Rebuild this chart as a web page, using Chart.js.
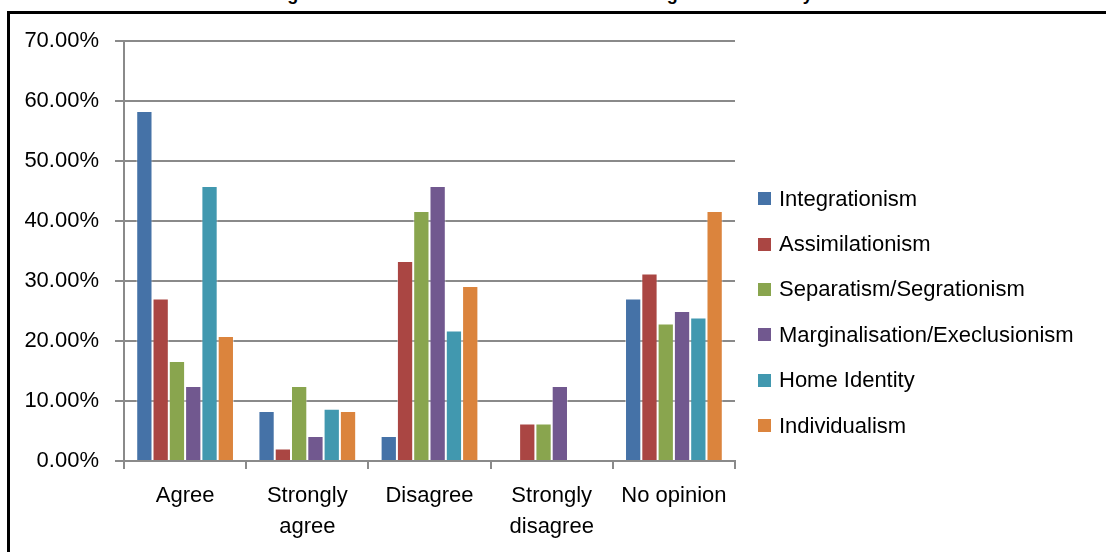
<!DOCTYPE html>
<html>
<head>
<meta charset="utf-8">
<script src="https://cdn.jsdelivr.net/npm/chart.js@4"></script>
<style>
  html, body { margin: 0; padding: 0; background: #fff; }
  body { width: 1106px; height: 552px; position: relative; overflow: hidden; font-family: "Liberation Sans", Arial, sans-serif; }
  #title { position: absolute; left: 0; width: 1084px; top: -16px; text-align: center; font-weight: bold; font-size: 18px; line-height: 21px; color: #000; white-space: nowrap; }
  #frameTop { position: absolute; left: 7px; top: 11px; width: 1099px; height: 3px; background: #000; }
  #frameLeft { position: absolute; left: 7px; top: 11px; width: 3px; height: 541px; background: #000; }
  #wrap { position: absolute; left: 0; top: 0; width: 1106px; height: 552px; }
  #legend { position: absolute; left: 758px; top: 176px; font-size: 22px; color: #000; }
  .item { height: 45.4px; display: flex; align-items: center; white-space: nowrap; }
  .sw { width: 13px; height: 13px; margin-right: 8px; flex: none; }
</style>
</head>
<body>
<div id="title">Figure 3: Acculturation orientation of the immigrant community</div>
<div id="wrap"><canvas id="c" width="1106" height="552"></canvas></div>
<div id="frameTop"></div>
<div id="frameLeft"></div>
<div id="legend"></div>
<script>
const categories = [["Agree"], ["Strongly", "agree"], ["Disagree"], ["Strongly", "disagree"], ["No opinion"]];
const seriesNames = ["Integrationism", "Assimilationism", "Separatism/Segrationism", "Marginalisation/Execlusionism", "Home Identity", "Individualism"];
const seriesColors = ["#4572A7", "#AA4643", "#89A54E", "#71588F", "#4198AF", "#DB843D"];
const integrationism = [58.33, 8.33, 4.17, 0, 27.08];
const assimilationism = [27.08, 2.08, 33.33, 6.25, 31.25];
const separatism = [16.67, 12.50, 41.67, 6.25, 22.92];
const marginalisation = [12.50, 4.17, 45.83, 12.50, 25.00];
const homeIdentity = [45.83, 8.70, 21.74, 0, 23.91];
const individualism = [20.83, 8.33, 29.17, 0, 41.67];
const yTicks = [0, 10, 20, 30, 40, 50, 60, 70];

const seriesValues = [integrationism, assimilationism, separatism, marginalisation, homeIdentity, individualism];
const FONT = '"Liberation Sans", Arial, sans-serif';
const GRID = '#8a8a8a';

const chart = new Chart(document.getElementById('c'), {
  type: 'bar',
  data: {
    labels: categories,
    datasets: seriesNames.map((n, i) => ({
      label: n,
      data: seriesValues[i],
      backgroundColor: seriesColors[i],
      borderColor: 'rgba(255,255,255,0.45)',
      borderWidth: 1,
      barPercentage: 1.0,
      categoryPercentage: 0.8
    }))
  },
  options: {
    responsive: false,
    animation: false,
    devicePixelRatio: 1,
    layout: { padding: { left: 0, top: 41, right: 371, bottom: 0 } },
    plugins: { legend: { display: false }, tooltip: { enabled: false }, title: { display: false } },
    scales: {
      x: {
        grid: { display: true, drawOnChartArea: false, drawTicks: true, tickLength: 8, color: GRID, lineWidth: 2, offset: true },
        border: { display: true, color: GRID, width: 2 },
        ticks: { color: '#000', font: { family: FONT, size: 22, lineHeight: 1.42 }, padding: 11, maxRotation: 0, autoSkip: false },
        afterFit: (s) => { s.height = 552 - 461; }
      },
      y: {
        min: 0, max: 70,
        afterBuildTicks: (s) => { s.ticks = yTicks.map(v => ({ value: v })); },
        grid: { color: GRID, lineWidth: 2, tickLength: 9, drawTicks: true },
        border: { display: true, color: GRID, width: 2 },
        ticks: { color: '#000', font: { family: FONT, size: 22 }, padding: 16, callback: (v) => Number(v).toFixed(2) + '%' },
        afterFit: (s) => { s.width = 124; }
      }
    }
  }
});

const lg = document.getElementById('legend');
seriesNames.forEach((n, i) => {
  const d = document.createElement('div');
  d.className = 'item';
  const sw = document.createElement('span');
  sw.className = 'sw';
  sw.style.background = seriesColors[i];
  const t = document.createElement('span');
  t.textContent = n;
  d.appendChild(sw); d.appendChild(t);
  lg.appendChild(d);
});
</script>
</body>
</html>
